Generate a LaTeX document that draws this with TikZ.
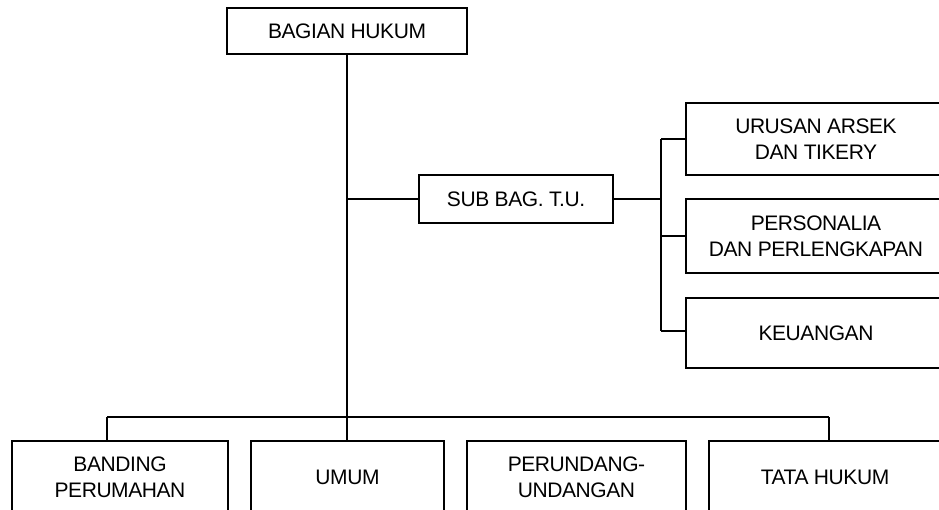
\documentclass[tikz,border=0pt]{standalone}
\usepackage{fontspec}
\setmainfont[LetterSpace=-2]{Liberation Sans}
\usetikzlibrary{positioning}

\begin{document}
\begin{tikzpicture}[x=1pt, y=-1pt]
  % styles
  \tikzset{
    unit/.style={draw=black, line width=1.3pt, align=center, inner sep=0pt,
      font=\fontsize{21}{26}\selectfont},
    link/.style={draw=black, line width=1.3pt}
  }

  % page (the right and bottom boxes run off the edge)
  \useasboundingbox (0,0) rectangle (939,510);
  \clip (0,0) rectangle (939,510);

  % head
  \node[unit, minimum width=240pt, minimum height=46pt] (hukum) at (347,31) {BAGIAN HUKUM};

  % staff branch
  \node[unit, minimum width=194pt, minimum height=48pt] (subbag) at (516,199) {SUB BAG. T.U.};
  \node[unit, minimum width=260pt, minimum height=72pt] (arsek) at (816,139) {URUSAN ARSEK\\DAN TIKERY};
  \node[unit, minimum width=260pt, minimum height=74pt] (personalia) at (816,236) {PERSONALIA\\DAN PERLENGKAPAN};
  \node[unit, minimum width=260pt, minimum height=70pt] (keuangan) at (816,333) {KEUANGAN};

  % line units
  \node[unit, minimum width=216pt, minimum height=72pt] (banding) at (120,477) {BANDING\\PERUMAHAN};
  \node[unit, minimum width=193pt, minimum height=72pt] (umum) at (347.5,477) {UMUM};
  \node[unit, minimum width=219pt, minimum height=72pt] (perundang) at (576.5,477) {PERUNDANG-\\UNDANGAN};
  \node[unit, minimum width=232pt, minimum height=72pt] (tatahukum) at (825,477) {TATA HUKUM};

  % bus ends
  \coordinate (busL) at (107,417);
  \coordinate (busR) at (829,417);
  \coordinate (sideT) at (661,139);
  \coordinate (sideB) at (661,331);

  % trunk and bottom bus
  \draw[link] (hukum.south) -- (hukum.south |- umum.north);
  \draw[link] (busL) -- (busR);
  \draw[link] (busL) -- (busL |- banding.north);
  \draw[link] (busR) -- (busR |- tatahukum.north);

  % staff connectors
  \draw[link] (hukum.south |- subbag.west) -- (subbag.west);
  \draw[link] (subbag.east) -- (subbag.east -| sideT);
  \draw[link] (sideT) -- (sideB);
  \draw[link] (sideT) -- (arsek.west);
  \draw[link] (personalia.west -| sideT) -- (personalia.west);
  \draw[link] (sideB) -- (sideB -| keuangan.west);
\end{tikzpicture}
\end{document}
